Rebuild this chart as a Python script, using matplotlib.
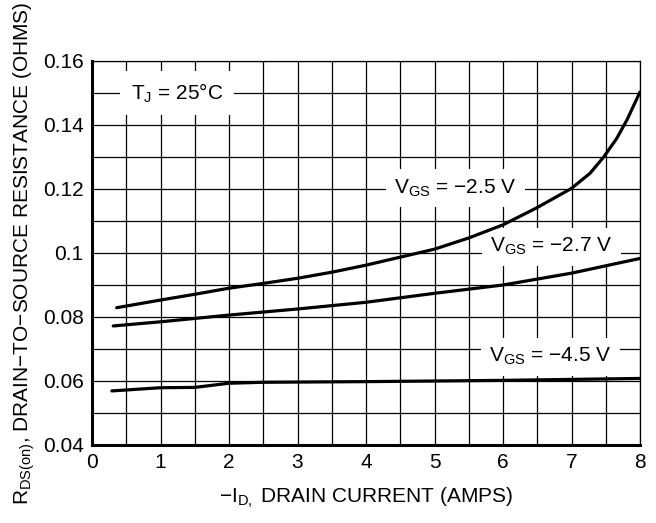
import matplotlib
matplotlib.use("Agg")
import matplotlib.pyplot as plt
import numpy as np
from matplotlib.ticker import MultipleLocator

plt.rcParams['font.family'] = ['Liberation Sans', 'DejaVu Sans']
plt.rcParams['mathtext.fontset'] = 'custom'
plt.rcParams['mathtext.rm'] = 'Liberation Sans'
plt.rcParams['mathtext.it'] = 'Liberation Sans:italic'
plt.rcParams['mathtext.bf'] = 'Liberation Sans:bold'

# Data
x_25 = [0.36, 1.0, 1.5, 2.0, 2.5, 3.0, 3.5, 4.0, 4.5, 5.0, 5.5, 6.0, 6.5, 7.0,
        7.27, 7.47, 7.66, 7.81, 7.91, 8.0]
r_25 = [0.0829, 0.0853, 0.0871, 0.0890, 0.0905, 0.0921, 0.0940, 0.0962, 0.0987,
        0.1012, 0.1047, 0.1088, 0.1142, 0.1202, 0.1249, 0.1300, 0.1358, 0.1416,
        0.1462, 0.1503]

x_27 = [0.31, 1.0, 2.0, 3.0, 4.0, 5.0, 6.0, 7.0, 8.0]
r_27 = [0.0772, 0.0785, 0.0806, 0.0825, 0.0846, 0.0874, 0.0900, 0.0937, 0.0983]

x_45 = [0.29, 1.0, 1.5, 2.0, 2.5, 4.0, 6.0, 8.0]
r_45 = [0.0569, 0.0579, 0.0580, 0.0593, 0.0596, 0.0598, 0.0602, 0.0608]

x_ticks = [0, 1, 2, 3, 4, 5, 6, 7, 8]
y_ticks = [0.04, 0.06, 0.08, 0.1, 0.12, 0.14, 0.16]
y_tick_labels = ['0.04', '0.06', '0.08', '0.1', '0.12', '0.14', '0.16']

FS = 15

fig = plt.figure(figsize=(6.56, 5.23), dpi=100)
ax = fig.add_axes([92/656, 1 - 445/523, (640-92)/656, (445-61)/523])

for xs, ys in [(x_25, r_25), (x_27, r_27), (x_45, r_45)]:
    ax.plot(xs, ys, color='black', lw=2.3, solid_capstyle='round',
            solid_joinstyle='round', zorder=3)

ax.set_xlim(0, 8)
ax.set_ylim(0.04, 0.16)
ax.set_xticks(x_ticks)
ax.set_xticklabels([str(v) for v in x_ticks])
ax.set_yticks(y_ticks)
ax.set_yticklabels(y_tick_labels)
ax.xaxis.set_minor_locator(MultipleLocator(0.5))
ax.yaxis.set_minor_locator(MultipleLocator(0.01))
ax.grid(True, which='both', color='black', lw=0.9, zorder=1)
ax.set_axisbelow(True)
ax.tick_params(which='both', length=0, labelsize=FS, pad=6)

for s in ['left', 'bottom']:
    ax.spines[s].set_linewidth(2.2)
for s in ['top', 'right']:
    ax.spines[s].set_linewidth(0.9)

box = dict(boxstyle='square,pad=0.4', facecolor='white', edgecolor='none')
ax.text(1.24, 0.150, r'T$_\mathregular{J}$ = 25°C', fontsize=FS, ha='center', va='center',
        bbox=dict(boxstyle='square,pad=0.5', facecolor='white', edgecolor='none'), zorder=2)
ax.text(5.3, 0.1203, r'V$_\mathregular{GS}$ = −2.5 V', fontsize=FS, ha='center', va='center', bbox=box, zorder=2)
ax.text(6.71, 0.1020, r'V$_\mathregular{GS}$ = −2.7 V', fontsize=FS, ha='center', va='center', bbox=box, zorder=2)
ax.text(6.69, 0.0676, r'V$_\mathregular{GS}$ = −4.5 V', fontsize=FS, ha='center', va='center', bbox=box, zorder=2)

ax.set_xlabel(r'−I$_\mathregular{D,}$ DRAIN CURRENT (AMPS)', fontsize=FS, labelpad=10)
ax.set_ylabel(r'R$_\mathregular{DS(on)}$, DRAIN−TO−SOURCE RESISTANCE (OHMS)', fontsize=FS, labelpad=4)

fig.savefig('out.png', dpi=100)
